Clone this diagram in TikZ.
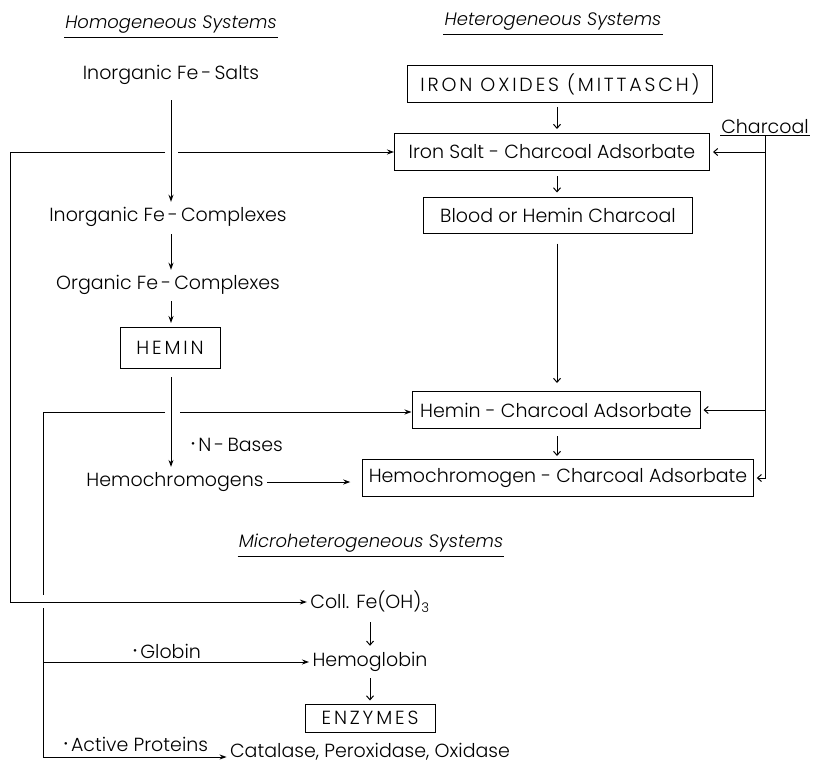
\documentclass[tikz,border=0pt]{standalone}
\usepackage{fontspec}
\setmainfont{Poppins}[UprightFont={* Light},ItalicFont={* Light Italic}]
\usetikzlibrary{positioning,arrows.meta,calc}

\newcommand{\plusdot}{\raisebox{4pt}{\fontsize{11}{11}\selectfont•}\,}

\begin{document}
\begin{tikzpicture}[x=1pt, y=-1pt,
    every node/.style={font=\fontsize{19}{21}\selectfont},
    box/.style={rectangle, draw=black, line width=1pt,
                minimum height=37pt, inner xsep=6pt},
    caps/.style={font=\fontsize{19}{21}\selectfont\addfontfeature{LetterSpace=15}},
    title/.style={font=\fontsize{18}{20}\selectfont\itshape, inner sep=1pt},
    wire/.style={line width=1pt},
    arrow/.style={-{Stealth[length=7pt,width=5pt]}, line width=1pt},
    barb/.style={-{Straight Barb[length=4pt,width=7pt]}, line width=1pt}
]
    \useasboundingbox (0,0) rectangle (813,765);

    % homogeneous systems
    \node[title] (homt) at (171,25) {Homogeneous Systems};
    \node (salts) at (171,75) {Inorganic Fe\,-\,Salts};
    \node (inorgc) at (168,217) {Inorganic Fe\,-\,Complexes};
    \node (orgc) at (168,285) {Organic Fe\,-\,Complexes};
    \node[box, caps, minimum width=100pt, minimum height=41pt] (hemin) at (170,348) {HEMIN};
    \node (nbases) at (237,445) {\plusdot N\,-\,Bases};
    \node (hchrom) at (175,482) {Hemochromogens};

    % heterogeneous systems
    \node[title] (hett) at (553,22) {Heterogeneous Systems};
    \node[box, caps, minimum width=305pt] (ironox) at (560,84) {IRON OXIDES (MITTASCH)};
    \node[box, minimum width=315pt] (ironsalt) at (552,152) {Iron Salt - Charcoal Adsorbate};
    \node[box, minimum width=269pt, minimum height=36pt] (blood) at (558,215) {Blood or Hemin Charcoal};
    \node[box, minimum width=288pt] (hemchar) at (556,410) {Hemin - Charcoal Adsorbate};
    \node[box, minimum width=387pt] (hchromchar) at (558,478) {Hemochromogen - Charcoal Adsorbate};
    \node[inner sep=1pt] (charcoal) at (765,127) {Charcoal};

    % microheterogeneous systems
    \node[title] (mict) at (371,543) {Microheterogeneous Systems};
    \node (coll) at (370,602) {Coll. Fe(OH)\textsubscript{3}};
    \node (hglob) at (370,662) {Hemoglobin};
    \node[box, caps, minimum width=130pt, minimum height=28pt] (enz) at (370,718) {ENZYMES};
    \node (catal) at (370,752) {Catalase, Peroxidase, Oxidase};
    \node (globin) at (167,651) {\plusdot Globin};
    \node (actprot) at (136,744) {\plusdot Active Proteins};

    % underlines
    \foreach \t in {homt,hett,mict}
        \draw[wire] ([yshift=-3pt]\t.south west) -- ([yshift=-3pt]\t.south east);
    \draw[wire] (charcoal.south west) -- (charcoal.south east);

    \coordinate (lx) at (171,0);
    \coordinate (hx) at (557,0);

    % left column
    \draw[arrow, shorten <=12pt, shorten >=2pt] (salts.south -| lx) -- (inorgc.north -| lx);
    \draw[arrow, shorten <=4pt, shorten >=2pt] (inorgc.south -| lx) -- (orgc.north -| lx);
    \draw[arrow, shorten <=3pt, shorten >=4pt] (orgc.south -| lx) -- (hemin.north -| lx);
    \draw[arrow, shorten <=8pt, shorten >=2pt] (hemin.south -| lx) -- (hchrom.north -| lx);
    \draw[arrow, shorten >=12pt] (hchrom.east) -- (hchrom.east -| hchromchar.west);

    % right column
    \draw[barb, shorten <=4pt, shorten >=4pt] (ironox.south -| hx) -- (ironsalt.north -| hx);
    \draw[barb, shorten <=5pt, shorten >=4pt] (ironsalt.south -| hx) -- (blood.north -| hx);
    \draw[barb, shorten <=10pt, shorten >=8pt] (blood.south -| hx) -- (hemchar.north -| hx);
    \draw[barb, shorten <=7pt, shorten >=3pt] (hemchar.south -| hx) -- (hchromchar.north -| hx);

    % charcoal feed
    \draw[barb, shorten >=3pt] (charcoal.south) |- (hchromchar.east);
    \draw[barb, shorten >=3pt] (charcoal.south |- ironsalt) -- (ironsalt.east);
    \draw[barb, shorten >=3pt] (charcoal.south |- hemchar) -- (hemchar.east);

    % outer loop from the salts
    \coordinate (gapl) at (165,152);
    \coordinate (gapr) at (178,152);
    \coordinate (ta) at (10,152);
    \draw[arrow] (gapr) -- (gapr -| ironsalt.west);
    \draw[arrow] (gapl) -- (ta) |- (coll.west);

    % inner loop from hemin
    \coordinate (hgl) at (165,412);
    \coordinate (hgr) at (180,412);
    \coordinate (ha) at (43,412);
    \coordinate (hb) at (43,595);
    \coordinate (hc) at (43,608);
    \coordinate (hd) at (43,757);
    \draw[arrow] (hgr) -- (hgr -| hemchar.west);
    \draw[wire] (hgl) -- (ha) -- (hb);
    \draw[wire] (hc) -- (hd);
    \draw[arrow] (hc |- hglob) -- (hglob.west);
    \draw[arrow] (hd) -- (hd -| catal.west);

    % micro column
    \draw[barb, shorten <=6pt, shorten >=3pt] (coll) -- (hglob);
    \draw[barb, shorten <=3pt, shorten >=3pt] (hglob) -- (enz);
\end{tikzpicture}
\end{document}
